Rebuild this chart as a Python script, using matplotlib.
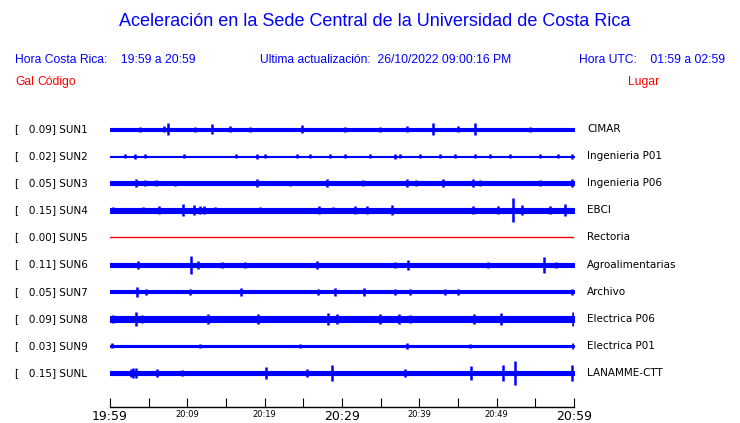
import numpy as np
import matplotlib
matplotlib.use("Agg")
import matplotlib.pyplot as plt

# station info
stations = ['SUN1', 'SUN2', 'SUN3', 'SUN4', 'SUN5', 'SUN6', 'SUN7', 'SUN8', 'SUN9', 'SUNL']
peak_gal = [0.09, 0.02, 0.05, 0.15, 0.00, 0.11, 0.05, 0.09, 0.03, 0.15]
places = ['CIMAR', 'Ingenieria P01', 'Ingenieria P06', 'EBCI', 'Rectoria',
          'Agroalimentarias', 'Archivo', 'Electrica P06', 'Electrica P01', 'LANAMME-CTT']

# background noise level of each trace (half amplitude, display units)
noise = [1.5, 0.5, 2.0, 2.5, 0.0, 2.0, 1.5, 3.0, 1.0, 1.7]

# bursts: minutes after 19:59 and half amplitude (display units)
burst_t = [
    [3.9, 7.0, 7.5, 11.0, 13.2, 15.5, 18.1, 24.8, 30.4, 34.9, 38.4, 41.8, 45.0, 47.2, 54.3],
    [1.9, 3.2, 4.5, 9.6, 16.3, 19.0, 20.0, 24.2, 25.9, 28.4, 30.4, 33.6, 36.9, 37.5, 40.1,
     42.7, 44.6, 47.2, 49.1, 51.7, 55.6, 57.9, 59.7],
    [3.4, 4.5, 5.9, 8.4, 19.0, 23.3, 28.1, 32.7, 38.4, 39.6, 43.1, 46.9, 47.8, 55.6, 59.7],
    [0.4, 1.8, 4.3, 6.3, 9.4, 10.9, 11.6, 12.2, 13.6, 19.4, 27.0, 28.8, 31.7, 33.2, 36.5,
     46.9, 50.2, 52.1, 53.3, 56.9, 58.8],
    [],
    [3.6, 10.5, 11.4, 14.5, 17.5, 26.8, 36.9, 38.5, 48.9, 56.1, 57.7],
    [3.5, 4.7, 10.3, 16.9, 26.9, 29.1, 32.8, 36.9, 38.8, 43.3, 45.0, 59.7],
    [0.4, 3.4, 4.1, 9.3, 12.7, 19.1, 28.2, 29.4, 34.9, 37.4, 38.8, 47.1, 50.6, 59.9],
    [0.3, 11.6, 24.6, 38.4, 46.6, 59.9],
    [2.7, 3.0, 3.4, 6.1, 9.3, 20.2, 25.5, 28.7, 38.1, 46.7, 50.8, 52.4, 59.7],
]
burst_a = [
    [2.5, 3, 6, 2.5, 5, 3, 2.5, 4, 2.5, 2.5, 3, 6, 3, 6, 2.5],
    [2, 2.5, 2, 2, 2, 2.5, 2, 2, 2, 2, 2, 2, 2.5, 2, 2, 2, 2, 2, 2, 2, 2, 2, 2.5],
    [4, 3, 3, 2.5, 4, 2.5, 4, 3, 4, 3, 4, 4, 3, 3, 4],
    [3, 2.5, 3, 4, 6, 5, 4, 4, 3, 3, 4, 3, 4, 4, 5, 4, 4, 12, 5, 4, 6],
    [],
    [4, 9, 4, 3, 3, 4, 3, 5, 3, 8, 3],
    [5, 3, 3, 4, 3, 4, 4, 3, 3, 3, 3, 3],
    [4, 7, 4, 3, 5, 5, 6, 5, 5, 5, 4, 5, 6, 7],
    [2.5, 2, 2, 3, 2, 3],
    [4, 5, 5, 4, 3, 6, 4, 8, 4, 7, 8, 12, 8],
]

tick_min = list(range(0, 61, 5))
tick_labels = ['19:59', '', '20:09', '', '20:19', '', '20:29', '', '20:39', '', '20:49', '', '20:59']

W, H = 740, 423
fig = plt.figure(figsize=(W / 100, H / 100), dpi=100)
fig.patch.set_facecolor('white')

ax = fig.add_axes([110 / W, 16 / H, 464 / W, (407 - 115) / H])
ax.set_xlim(0, 60)
ax.set_ylim(407, 115)

for i, st in enumerate(stations):
    y0 = 129 + 27.1 * i
    if peak_gal[i] == 0:
        ax.plot([0, 60], [y0, y0], color='red', lw=1)
    else:
        a = noise[i]
        ax.fill_between([0, 60], y0 - a, y0 + a, color='blue', lw=0.8, edgecolor='blue')
        if len(burst_t[i]) > 0:
            ba = np.array(burst_a[i])
            ax.vlines(burst_t[i], y0 - ba, y0 + ba, color='blue', lw=1.8)
    fig.text(15 / W, 1 - y0 / H, '[   %.2f] %s' % (peak_gal[i], st),
             fontsize=7.5, va='center', ha='left', family='DejaVu Sans')
    fig.text(587 / W, 1 - y0 / H, places[i],
             fontsize=7.5, va='center', ha='left', family='DejaVu Sans')

for s in ['left', 'right', 'top']:
    ax.spines[s].set_visible(False)
ax.spines['bottom'].set_linewidth(1)
ax.set_yticks([])
ax.set_xticks(tick_min)
ax.set_xticklabels(tick_labels)
ax.tick_params(axis='x', direction='in', length=6.5, width=0.8, pad=2, labelsize=6)
for lbl in ax.get_xticklabels():
    if lbl.get_text() in ('19:59', '20:29', '20:59'):
        lbl.set_fontsize(9)

hf = 'Liberation Sans'
fig.text(375 / W, 1 - 22 / H, 'Aceleración en la Sede Central de la Universidad de Costa Rica',
         color='blue', fontsize=13, ha='center', va='center', family=hf)
fig.text(15 / W, 1 - 60 / H, 'Hora Costa Rica:    19:59 a 20:59', color='blue',
         fontsize=8.7, va='center', family=hf)
fig.text(260 / W, 1 - 60 / H, 'Ultima actualización:  26/10/2022 09:00:16 PM', color='blue',
         fontsize=8.7, va='center', family=hf)
fig.text(725 / W, 1 - 60 / H, 'Hora UTC:    01:59 a 02:59', color='blue',
         fontsize=8.7, va='center', ha='right', family=hf)
fig.text(15 / W, 1 - 82 / H, 'Gal', color='red', fontsize=8.7, va='center', family=hf)
fig.text(37 / W, 1 - 82 / H, 'Código', color='red', fontsize=8.7, va='center', family=hf)
fig.text(628 / W, 1 - 82 / H, 'Lugar', color='red', fontsize=8.7, va='center', family=hf)

fig.savefig('out.png', dpi=100)
